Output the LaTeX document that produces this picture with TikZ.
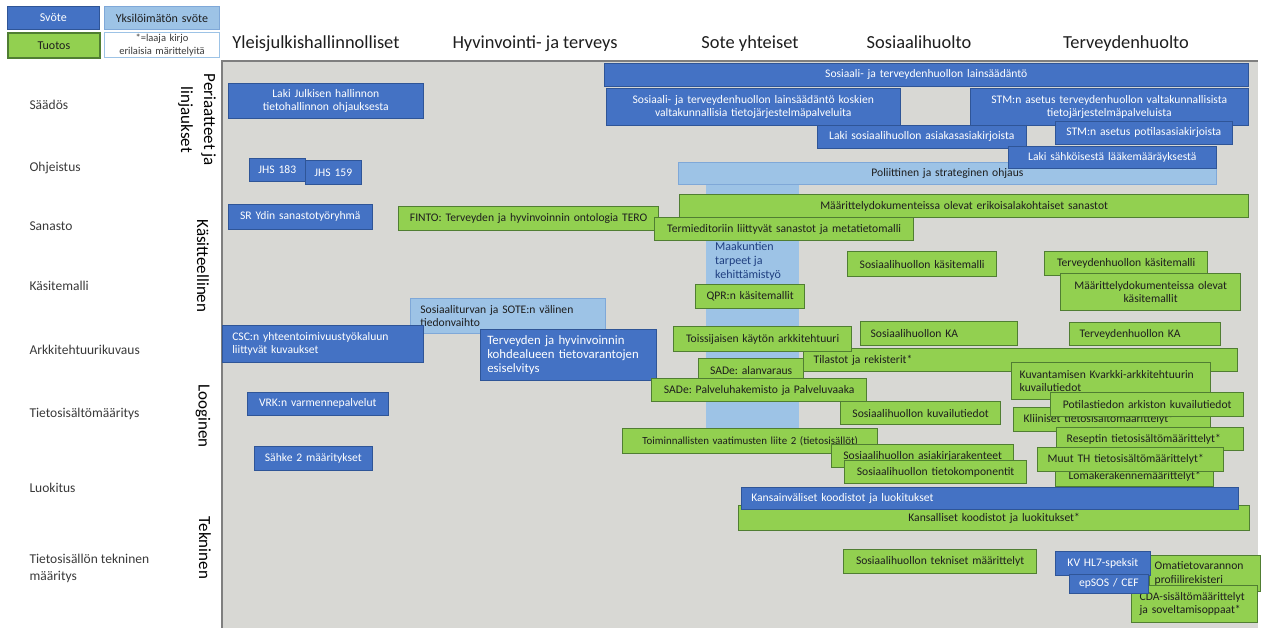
\documentclass[tikz,border=0pt]{standalone}
\usepackage{fontspec}
\setmainfont{Carlito}
\frenchspacing
\definecolor{cBlue}{HTML}{4472C4}
\definecolor{cBlueD}{HTML}{2F5597}
\definecolor{cLight}{HTML}{9DC3E6}
\definecolor{cLightD}{HTML}{7FA8D8}
\definecolor{cGreen}{HTML}{92D050}
\definecolor{cGreenD}{HTML}{507E32}
\definecolor{cPanel}{HTML}{D8D8D4}
\definecolor{cFrame}{HTML}{7F7F7F}
\definecolor{cText}{HTML}{1E1E1E}
\definecolor{cRow}{HTML}{3A3A3A}
\definecolor{cNavy}{HTML}{1F3F80}
\tikzset{
  sz/.code n args={3}{\pgfmathsetmacro\tw{#1-2*#3}\edef\next{\noexpand\pgfkeysalso{minimum width=#1pt, minimum height=#2pt, inner xsep=#3pt, text width=\tw pt}}\next},
  bx/.style={rectangle, anchor=north west, inner ysep=1pt, font=\fontsize{11.6}{13.5}\selectfont, align=center},
  blu/.style={bx, fill=cBlue, draw=cBlueD, line width=0.6pt, text=white},
  lbl/.style={bx, fill=cLight, draw=cLightD, line width=0.8pt, text=cText},
  grn/.style={bx, fill=cGreen, draw=cGreenD, line width=1.3pt, text=cText},
  lft/.style={align=left},
  hdr/.style={anchor=base, font=\fontsize{18.4}{21}\selectfont, text=cText},
  rowl/.style={anchor=mid west, align=left, font=\fontsize{13.5}{17}\selectfont, text=cRow},
  vlab/.style={rotate=-90, align=center, font=\fontsize{17}{23}\selectfont, text=black},
  lgfont/.style={font=\fontsize{12}{14}\selectfont},
}
\begin{document}
\begin{tikzpicture}[x=1pt,y=-1pt]
\useasboundingbox (0,0) rectangle (1263,628);
\fill[white] (0,0) rectangle (1263,628);
% legend
\node[blu, sz={92}{23}{3}, lgfont] (lgA) at (7,6) {Svöte};
\node[lbl, sz={115}{23}{3}, lgfont] (lgB) at (104,6) {Yksilöimätön svöte};
\node[grn, sz={92}{25}{3}, lgfont, line width=1.8pt] (lgC) at (7,32) {Tuotos};
\node[bx, sz={115}{25}{2}, fill=white, draw=cLight, line width=1pt, font=\fontsize{10.5}{12.5}\selectfont, text=cRow] (lgD) at (104,32) {*=laaja kirjo\\erilaisia märittelyitä};
% headers
\node[hdr] (h1) at (316,49) {Yleisjulkishallinnolliset};
\node[hdr] (h2) at (535,49) {Hyvinvointi- ja terveys};
\node[hdr] (h3) at (750,49) {Sote yhteiset};
\node[hdr] (h4) at (919,49) {Sosiaalihuolto};
\node[hdr] (h5) at (1126,49) {Terveydenhuolto};
% row labels
\node[rowl] (r1) at (26,107) {Säädös};
\node[rowl] (r2) at (26,169) {Ohjeistus};
\node[rowl] (r3) at (26,228) {Sanasto};
\node[rowl] (r4) at (26,288) {Käsitemalli};
\node[rowl] (r5) at (26,352) {Arkkitehtuurikuvaus};
\node[rowl] (r6) at (26,415) {Tietosisältömääritys};
\node[rowl] (r7) at (26,490) {Luokitus};
\node[rowl, anchor=west] (r8) at (26,568) {Tietosisällön tekninen\\määritys};
% vertical labels
\node[vlab] (v1) at (197,120) {Periaatteet ja\\linjaukset};
\node[vlab] (v2) at (203,266) {Käsitteellinen};
\node[vlab] (v3) at (203,416) {Looginen};
\node[vlab] (v4) at (205,548) {Tekninen};
% panel
\fill[cPanel] (222,61) rectangle (1258,628);
\draw[cFrame, line width=1.6pt] (222,628) -- (222,61) -- (1258,61);
% Saados
\node[blu, sz={644}{23}{4}] (b1) at (604,63) {Sosiaali- ja terveydenhuollon lainsäädäntö};
\node[blu, sz={294}{37}{4}] (b2) at (606,88) {Sosiaali- ja terveydenhuollon lainsäädäntö koskien\\valtakunnallisia tietojärjestelmäpalveluita};
\node[blu, sz={278}{37}{4}] (b3) at (970,88) {STM:n asetus terveydenhuollon valtakunnallisista\\tietojärjestelmäpalveluista};
\node[blu, sz={209}{23}{4}] (b4) at (817,125) {Laki sosiaalihuollon asiakasasiakirjoista};
\node[blu, sz={177}{23}{4}] (b5) at (1055,121) {STM:n asetus potilasasiakirjoista};
% column
\node[bx, sz={93}{261}{0}, fill=cLight, draw=none] (col) at (706,184) {};
\node[anchor=north west, align=left, inner sep=0pt, font=\fontsize{12}{14.2}\selectfont, text=cNavy] (colt) at (715,242) {Maakuntien\\tarpeet ja\\kehittämistyö};
\node[lbl, sz={538}{22}{4}] (b7) at (678,162) {Poliittinen ja strateginen ohjaus};
\node[blu, sz={208}{22}{4}] (b6) at (1008,146) {Laki sähköisestä lääkemääräyksestä};
% left column
\node[blu, sz={195}{35}{4}] (b9) at (228,83) {Laki Julkisen hallinnon\\tietohallinnon ohjauksesta};
\node[blu, sz={56}{23}{3}] (b10) at (249,158) {JHS 183};
\node[blu, sz={56}{24}{3}] (b11) at (305,160) {JHS 159};
\node[blu, sz={144}{25}{4}] (b12) at (228,204) {SR Ydin sanastotyöryhmä};
% sanasto
\node[grn, sz={569}{23}{4}] (b14) at (679,194) {Määrittelydokumenteissa olevat erikoisalakohtaiset sanastot};
\node[grn, sz={260}{24}{4}] (b13) at (398,206) {FINTO: Terveyden ja hyvinvoinnin ontologia TERO};
\node[grn, sz={259}{23}{4}] (b15) at (654,217) {Termieditoriin liittyvät sanastot ja metatietomalli};
% kasitemalli
\node[grn, sz={149}{25}{4}] (b16) at (847,251) {Sosiaalihuollon käsitemalli};
\node[grn, sz={163}{24}{4}] (b17) at (1044,251) {Terveydenhuollon käsitemalli};
\node[grn, sz={180}{37}{4}] (b18) at (1060,273) {Määrittelydokumenteissa olevat\\käsitemallit};
\node[grn, sz={109}{24}{4}] (b19) at (695,284) {QPR:n käsitemallit};
\node[lbl, sz={195}{35}{10}, lft] (b20) at (410,298) {Sosiaaliturvan ja SOTE:n välinen\\tiedonvaihto};
% arkkitehtuuri
\node[blu, sz={201}{37}{10}, lft] (b21) at (222,325) {CSC:n yhteentoimivuustyökaluun\\liittyvät kuvaukset};
\node[blu, sz={176}{51}{7}, lft, font=\fontsize{12.8}{14.2}\selectfont] (b22) at (480,329) {Terveyden ja hyvinvoinnin\\kohdealueen tietovarantojen\\esiselvitys};
\node[grn, sz={157}{24}{10}, lft] (b24) at (860,321) {Sosiaalihuollon KA};
\node[grn, sz={151}{23}{10}, lft] (b25) at (1069,322) {Terveydenhuollon KA};
\node[grn, sz={434}{23}{10}, lft] (b26) at (803,348) {Tilastot ja rekisterit*};
\node[grn, sz={178}{25}{4}] (b23) at (673,326) {Toissijaisen käytön arkkitehtuuri};
\node[grn, sz={105}{23}{4}] (b27) at (698,358) {SADe: alanvaraus};
\node[grn, sz={215}{23}{4}] (b28) at (651,378) {SADe: Palveluhakemisto ja Palveluvaaka};
\node[grn, sz={199}{37}{8}, lft] (b29) at (1011,362) {Kuvantamisen Kvarkki-arkkitehtuurin\\kuvailutiedot};
% tietosisalto
\node[grn, sz={197}{24}{10}, lft] (b32) at (1013,407) {Kliiniset tietosisältömäärittelyt*};
\node[grn, sz={193}{24}{4}] (b30) at (1050,392) {Potilastiedon arkiston kuvailutiedot};
\node[grn, sz={160}{23}{4}] (b31) at (840,401) {Sosiaalihuollon kuvailutiedot};
\node[blu, sz={141}{23}{4}] (b46) at (247,392) {VRK:n varmennepalvelut};
\node[blu, sz={118}{24}{4}] (b47) at (254,446) {Sähke 2 määritykset};
\node[grn, sz={255}{25}{4}, font=\fontsize{10.9}{13}\selectfont] (b33) at (622,428) {Toiminnallisten vaatimusten liite 2 (tietosisällöt)};
\node[grn, sz={182}{23}{4}] (b35) at (831,444) {Sosiaalihuollon asiakirjarakenteet};
\node[grn, sz={182}{23}{4}] (b36) at (844,460) {Sosiaalihuollon tietokomponentit};
\node[grn, sz={187}{23}{10}, lft] (b34) at (1056,427) {Reseptin tietosisältömäärittelyt*};
\node[grn, sz={158}{20}{4}] (b38) at (1055,466) {Lomakerakennemäärittelyt*};
\node[grn, sz={186}{24}{10}, lft] (b37) at (1037,447) {Muut TH tietosisältömäärittelyt*};
% luokitus
\node[grn, sz={511}{25}{4}] (b40) at (738,505) {Kansalliset koodistot ja luokitukset*};
\node[blu, sz={497}{22}{10}, lft] (b39) at (741,487) {Kansainväliset koodistot ja luokitukset};
% tekninen
\node[grn, sz={193}{24}{4}] (b41) at (843,549) {Sosiaalihuollon tekniset määrittelyt};
\node[grn, sz={111}{36}{5}, lft] (b44) at (1149,555) {Omatietovarannon\\profiilirekisteri};
\node[grn, sz={126}{37}{8}, lft] (b45) at (1131,585) {CDA-sisältömäärittelyt\\ja soveltamisoppaat*};
\node[blu, sz={95}{24}{4}] (b42) at (1055,551) {KV HL7-speksit};
\node[blu, sz={79}{19}{4}] (b43) at (1069,574) {epSOS / CEF};
\end{tikzpicture}
\end{document}
